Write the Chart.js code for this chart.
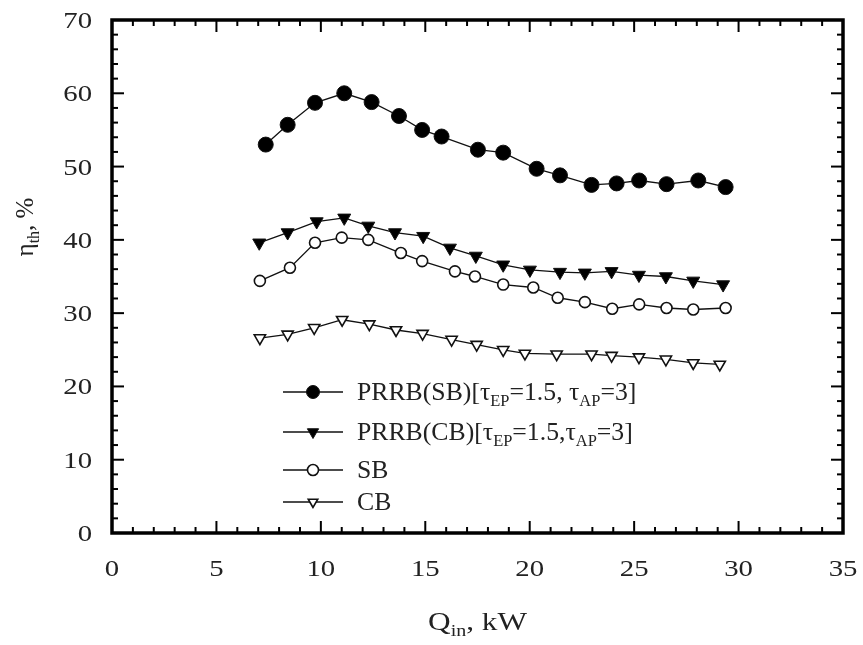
<!DOCTYPE html>
<html>
<head>
<meta charset="utf-8">
<script src="https://cdn.jsdelivr.net/npm/chart.js@4.4.1/dist/chart.umd.min.js"></script>
<style>
  html, body { margin: 0; background: #fff; }
</style>
</head>
<body>
<canvas id="chart" width="863" height="645"></canvas>
<script>
// thermal efficiency vs heat input — four burner configurations
const xTickValues = [0, 5, 10, 15, 20, 25, 30, 35];
const yTickValues = [0, 10, 20, 30, 40, 50, 60, 70];

const prrbSbX = [7.36, 8.41, 9.72, 11.12, 12.43, 13.74, 14.85, 15.78, 17.52, 18.73, 20.33, 21.45, 22.96, 24.16, 25.24, 26.55, 28.07, 29.38];
const prrbSbY = [53.0, 55.7, 58.7, 60.0, 58.8, 56.9, 55.0, 54.1, 52.3, 51.9, 49.7, 48.8, 47.5, 47.7, 48.1, 47.6, 48.1, 47.2];

const prrbCbX = [7.05, 8.41, 9.80, 11.12, 12.27, 13.55, 14.90, 16.18, 17.42, 18.73, 20.01, 21.45, 22.64, 23.92, 25.23, 26.52, 27.83, 29.26];
const prrbCbY = [39.6, 41.0, 42.5, 43.0, 41.9, 41.0, 40.5, 38.9, 37.8, 36.6, 35.9, 35.6, 35.5, 35.7, 35.2, 35.0, 34.4, 33.9];

const sbX = [7.08, 8.52, 9.72, 11.00, 12.27, 13.83, 14.85, 16.42, 17.38, 18.73, 20.17, 21.34, 22.64, 23.95, 25.24, 26.55, 27.83, 29.38];
const sbY = [34.4, 36.2, 39.6, 40.3, 40.0, 38.2, 37.1, 35.7, 35.0, 33.9, 33.5, 32.1, 31.5, 30.6, 31.2, 30.7, 30.5, 30.7];

const cbX = [7.08, 8.41, 9.68, 11.02, 12.32, 13.60, 14.87, 16.26, 17.46, 18.73, 19.77, 21.29, 22.96, 23.92, 25.23, 26.52, 27.83, 29.10];
const cbY = [26.6, 27.1, 28.0, 29.1, 28.5, 27.7, 27.2, 26.4, 25.7, 25.0, 24.5, 24.4, 24.4, 24.2, 24.0, 23.7, 23.2, 23.0];

// legend labels: [text, isSubscript]
const legendLabels = [
  [['PRRB(SB)[τ', 0], ['EP', 1], ['=1.5, τ', 0], ['AP', 1], ['=3]', 0]],
  [['PRRB(CB)[τ', 0], ['EP', 1], ['=1.5,τ', 0], ['AP', 1], ['=3]', 0]],
  [['SB', 0]],
  [['CB', 0]]
];
const xTitle = [['Q', 0], ['in', 1], [', kW', 0]];
const yTitle = [['η', 0], ['th', 1], [', %', 0]];

const SERIF = '"Liberation Serif", "Times New Roman", serif';
const TEXT = '#222';
const STRETCH = 1.25; // the scanned figure's glyphs are wider than Times

const pts = (xs, ys) => xs.map((x, i) => ({ x, y: ys[i] }));

const markerStyles = [
  { pointStyle: 'circle', radius: 7.5, rotation: 0, fill: '#000', borderWidth: 1, legendRadius: 6.5 },
  { pointStyle: 'triangle', radius: 7.5, rotation: 180, fill: '#000', borderWidth: 1, legendRadius: 6.5 },
  { pointStyle: 'circle', radius: 5.5, rotation: 0, fill: '#fff', borderWidth: 1.6, legendRadius: 5.5 },
  { pointStyle: 'triangle', radius: 6.5, rotation: 180, fill: '#fff', borderWidth: 1.6, legendRadius: 5.5 }
];

const series = [pts(prrbSbX, prrbSbY), pts(prrbCbX, prrbCbY), pts(sbX, sbY), pts(cbX, cbY)];

const datasets = series.map((data, i) => {
  const m = markerStyles[i];
  return {
    data,
    borderColor: '#111',
    borderWidth: 1.3,
    pointStyle: m.pointStyle,
    pointRadius: m.radius,
    pointRotation: m.rotation,
    pointBackgroundColor: m.fill,
    pointBorderColor: '#111',
    pointBorderWidth: m.borderWidth,
    tension: 0
  };
});

function richText(ctx, parts, x, y, size, measureOnly) {
  let w = 0;
  for (const [t, sub] of parts) {
    ctx.font = (sub ? size * 0.64 : size) + 'px ' + SERIF;
    if (!measureOnly) ctx.fillText(t, x + w, y + (sub ? size * 0.25 : 0));
    w += ctx.measureText(t).width;
  }
  return w;
}

// draw text stretched horizontally, anchored at (x, y) with given align
function wideText(ctx, parts, x, y, size, align, sx) {
  const w = richText(ctx, parts, 0, 0, size, true) * sx;
  const left = align === 'center' ? x - w / 2 : align === 'right' ? x - w : x;
  ctx.save();
  ctx.translate(left, y);
  ctx.scale(sx, 1);
  richText(ctx, parts, 0, 0, size);
  ctx.restore();
}

const framePlugin = {
  id: 'frame',
  afterDraw(chart) {
    const { ctx, chartArea: a, scales: { x, y } } = chart;
    ctx.save();
    ctx.strokeStyle = '#000';
    ctx.lineWidth = 2;
    const seg = (x1, y1, x2, y2) => { ctx.beginPath(); ctx.moveTo(x1, y1); ctx.lineTo(x2, y2); ctx.stroke(); };
    // x ticks: minor every 1, major every 5
    for (let v = x.min; v <= x.max; v += 1) {
      const px = x.getPixelForValue(v);
      const len = v % 5 ? 6 : 12;
      seg(px, a.bottom, px, a.bottom - len);
      seg(px, a.top, px, a.top + len);
    }
    // y ticks: minor every 2, major every 10
    for (let v = y.min; v <= y.max; v += 2) {
      const py = y.getPixelForValue(v);
      const len = v % 10 ? 6 : 12;
      seg(a.left, py, a.left + len, py);
      seg(a.right, py, a.right - len, py);
    }
    ctx.lineWidth = 3.5;
    ctx.strokeRect(a.left, a.top, a.right - a.left, a.bottom - a.top);

    // tick labels
    ctx.fillStyle = TEXT;
    ctx.textBaseline = 'alphabetic';
    ctx.textAlign = 'left';
    xTickValues.forEach(v => wideText(ctx, [[String(v), 0]], x.getPixelForValue(v), 576, 23, 'center', STRETCH));
    yTickValues.forEach(v => wideText(ctx, [[String(v), 0]], a.left - 20, y.getPixelForValue(v) + 8, 23, 'right', STRETCH));

    // axis titles
    wideText(ctx, xTitle, (a.left + a.right) / 2, 630, 25, 'center', STRETCH);
    const yw = richText(ctx, yTitle, 0, 0, 25, true);
    ctx.save();
    ctx.translate(33, 227);
    ctx.rotate(-Math.PI / 2);
    richText(ctx, yTitle, -yw / 2, 0, 25);
    ctx.restore();

    // legend
    const rowsY = [392, 432, 470, 502];
    rowsY.forEach((ry, i) => {
      const m = markerStyles[i];
      ctx.strokeStyle = '#111';
      ctx.lineWidth = 1.5;
      seg(283, ry, 343, ry);
      ctx.fillStyle = m.fill;
      ctx.lineWidth = m.borderWidth;
      Chart.helpers.drawPoint(ctx, {
        pointStyle: m.pointStyle, radius: m.legendRadius, rotation: m.rotation, borderWidth: m.borderWidth
      }, 313, ry);
      ctx.fillStyle = TEXT;
      wideText(ctx, legendLabels[i], 357, ry + 8, 24.5, 'left', 1.05);
    });
    ctx.restore();
  }
};

new Chart(document.getElementById('chart'), {
  type: 'line',
  data: { datasets },
  plugins: [framePlugin],
  options: {
    responsive: false,
    animation: false,
    layout: { padding: { top: 20, right: 20, left: 0, bottom: 0 } },
    plugins: { legend: { display: false }, tooltip: { enabled: false } },
    scales: {
      x: {
        type: 'linear',
        min: 0,
        max: 35,
        afterFit(s) { s.height = 112; s.paddingLeft = 0; s.paddingRight = 0; },
        grid: { display: false, drawTicks: false },
        border: { display: false },
        ticks: { display: false }
      },
      y: {
        type: 'linear',
        min: 0,
        max: 70,
        afterFit(s) { s.width = 112; s.paddingTop = 0; s.paddingBottom = 0; },
        grid: { display: false, drawTicks: false },
        border: { display: false },
        ticks: { display: false }
      }
    }
  }
});
</script>
</body>
</html>
